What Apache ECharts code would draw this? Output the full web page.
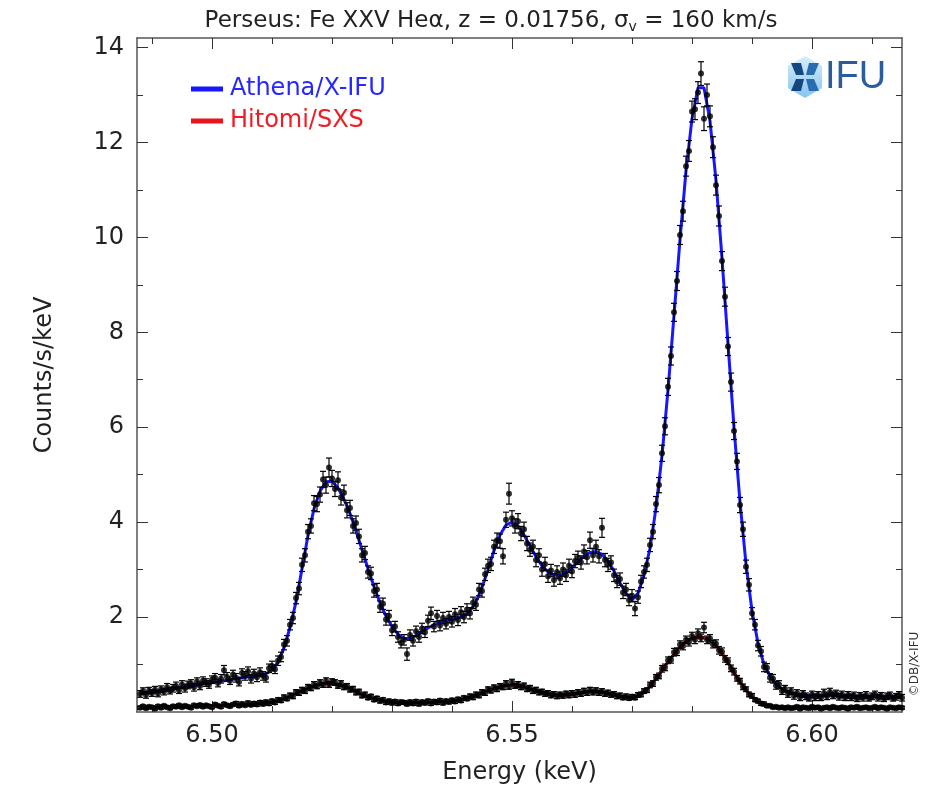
<!DOCTYPE html>
<html>
<head>
<meta charset="utf-8">
<title>Perseus Fe XXV He-alpha</title>
<script src="https://cdn.jsdelivr.net/npm/echarts@6.0.0/dist/echarts.min.js"></script>
<style>
  html, body { margin: 0; padding: 0; background: #fff; }
  #main { width: 934px; height: 790px; }
</style>
</head>
<body>
<div id="main"></div>
<script>
// bin centres (keV), 0.5 eV bins
const energy = [
  6.4880, 6.4885, 6.4890, 6.4895, 6.4900, 6.4905, 6.4910, 6.4915, 6.4920, 6.4925,
  6.4930, 6.4935, 6.4940, 6.4945, 6.4950, 6.4955, 6.4960, 6.4965, 6.4970, 6.4975,
  6.4980, 6.4985, 6.4990, 6.4995, 6.5000, 6.5005, 6.5010, 6.5015, 6.5020, 6.5025,
  6.5030, 6.5035, 6.5040, 6.5045, 6.5050, 6.5055, 6.5060, 6.5065, 6.5070, 6.5075,
  6.5080, 6.5085, 6.5090, 6.5095, 6.5100, 6.5105, 6.5110, 6.5115, 6.5120, 6.5125,
  6.5130, 6.5135, 6.5140, 6.5145, 6.5150, 6.5155, 6.5160, 6.5165, 6.5170, 6.5175,
  6.5180, 6.5185, 6.5190, 6.5195, 6.5200, 6.5205, 6.5210, 6.5215, 6.5220, 6.5225,
  6.5230, 6.5235, 6.5240, 6.5245, 6.5250, 6.5255, 6.5260, 6.5265, 6.5270, 6.5275,
  6.5280, 6.5285, 6.5290, 6.5295, 6.5300, 6.5305, 6.5310, 6.5315, 6.5320, 6.5325,
  6.5330, 6.5335, 6.5340, 6.5345, 6.5350, 6.5355, 6.5360, 6.5365, 6.5370, 6.5375,
  6.5380, 6.5385, 6.5390, 6.5395, 6.5400, 6.5405, 6.5410, 6.5415, 6.5420, 6.5425,
  6.5430, 6.5435, 6.5440, 6.5445, 6.5450, 6.5455, 6.5460, 6.5465, 6.5470, 6.5475,
  6.5480, 6.5485, 6.5490, 6.5495, 6.5500, 6.5505, 6.5510, 6.5515, 6.5520, 6.5525,
  6.5530, 6.5535, 6.5540, 6.5545, 6.5550, 6.5555, 6.5560, 6.5565, 6.5570, 6.5575,
  6.5580, 6.5585, 6.5590, 6.5595, 6.5600, 6.5605, 6.5610, 6.5615, 6.5620, 6.5625,
  6.5630, 6.5635, 6.5640, 6.5645, 6.5650, 6.5655, 6.5660, 6.5665, 6.5670, 6.5675,
  6.5680, 6.5685, 6.5690, 6.5695, 6.5700, 6.5705, 6.5710, 6.5715, 6.5720, 6.5725,
  6.5730, 6.5735, 6.5740, 6.5745, 6.5750, 6.5755, 6.5760, 6.5765, 6.5770, 6.5775,
  6.5780, 6.5785, 6.5790, 6.5795, 6.5800, 6.5805, 6.5810, 6.5815, 6.5820, 6.5825,
  6.5830, 6.5835, 6.5840, 6.5845, 6.5850, 6.5855, 6.5860, 6.5865, 6.5870, 6.5875,
  6.5880, 6.5885, 6.5890, 6.5895, 6.5900, 6.5905, 6.5910, 6.5915, 6.5920, 6.5925,
  6.5930, 6.5935, 6.5940, 6.5945, 6.5950, 6.5955, 6.5960, 6.5965, 6.5970, 6.5975,
  6.5980, 6.5985, 6.5990, 6.5995, 6.6000, 6.6005, 6.6010, 6.6015, 6.6020, 6.6025,
  6.6030, 6.6035, 6.6040, 6.6045, 6.6050, 6.6055, 6.6060, 6.6065, 6.6070, 6.6075,
  6.6080, 6.6085, 6.6090, 6.6095, 6.6100, 6.6105, 6.6110, 6.6115, 6.6120, 6.6125,
  6.6130, 6.6135, 6.6140, 6.6145, 6.6150
];

// Athena/X-IFU simulated counts/s/keV and 1-sigma errors
const xifu = [
  0.38, 0.44, 0.36, 0.45, 0.40, 0.47, 0.39, 0.48, 0.43, 0.52,
  0.45, 0.50, 0.55, 0.46, 0.58, 0.50, 0.57, 0.60, 0.52, 0.64,
  0.55, 0.66, 0.62, 0.58, 0.68, 0.72, 0.61, 0.70, 0.88, 0.74,
  0.66, 0.79, 0.72, 0.63, 0.82, 0.76, 0.86, 0.70, 0.81, 0.73,
  0.84, 0.76, 0.72, 0.92, 0.97, 0.90, 1.08, 1.16, 1.42, 1.50,
  1.84, 1.98, 2.40, 2.60, 3.10, 3.30, 3.80, 3.92, 4.40, 4.38,
  4.58, 4.90, 4.78, 5.15, 4.92, 4.70, 4.88, 4.52, 4.62, 4.25,
  4.30, 3.92, 3.98, 3.70, 3.30, 3.35, 2.95, 2.92, 2.55, 2.58,
  2.22, 2.28, 1.95, 2.02, 1.72, 1.80, 1.58, 1.46, 1.52, 1.22,
  1.62, 1.50, 1.70, 1.58, 1.76, 1.68, 1.92, 2.08, 1.80, 2.02,
  1.82, 1.98, 1.86, 2.00, 1.90, 2.06, 1.94, 2.10, 2.00, 2.16,
  2.08, 2.30, 2.26, 2.58, 2.55, 2.90, 3.08, 3.12, 3.48, 3.62,
  3.60, 3.28, 4.05, 4.60, 4.08, 3.92, 4.02, 3.76, 3.85, 3.55,
  3.42, 3.48, 3.20, 3.30, 3.00, 3.12, 2.86, 2.98, 2.78, 2.95,
  2.82, 3.00, 2.88, 3.08, 2.96, 3.18, 3.25, 3.15, 3.38, 3.26,
  3.62, 3.30, 3.48, 3.28, 3.88, 3.20, 3.10, 3.15, 2.88, 2.75,
  2.80, 2.52, 2.58, 2.36, 2.45, 2.18, 2.42, 2.75, 2.95, 3.10,
  3.52, 3.80, 4.38, 4.78, 5.45, 6.02, 6.85, 7.50, 8.42, 9.08,
  10.05, 10.55, 11.50, 11.82, 12.65, 12.70, 13.05, 13.45, 12.50, 13.00,
  12.55, 11.90, 11.10, 10.45, 9.50, 8.75, 7.70, 6.95, 5.92, 5.28,
  4.36, 3.85, 3.06, 2.68, 2.08, 1.84, 1.40, 1.28, 0.95, 0.93,
  0.72, 0.70, 0.56, 0.58, 0.44, 0.49, 0.38, 0.44, 0.34, 0.40,
  0.31, 0.38, 0.33, 0.29, 0.37, 0.31, 0.36, 0.30, 0.40, 0.33,
  0.42, 0.35, 0.39, 0.32, 0.37, 0.30, 0.36, 0.31, 0.35, 0.28,
  0.34, 0.30, 0.36, 0.29, 0.33, 0.37, 0.30, 0.34, 0.28, 0.33,
  0.35, 0.29, 0.32, 0.36, 0.30
];
const xifuErr = [
  .07, .07, .07, .07, .07, .07, .07, .07, .07, .08,
  .07, .08, .08, .07, .08, .08, .08, .08, .08, .08,
  .08, .08, .08, .08, .08, .09, .08, .09, .10, .09,
  .08, .09, .09, .08, .09, .09, .09, .09, .09, .09,
  .09, .09, .09, .09, .10, .09, .10, .10, .11, .11,
  .11, .12, .12, .13, .14, .14, .15, .15, .16, .16,
  .16, .17, .17, .20, .17, .16, .18, .16, .16, .16,
  .16, .15, .15, .15, .14, .14, .13, .13, .13, .13,
  .12, .12, .12, .12, .11, .11, .11, .11, .11, .13,
  .11, .11, .11, .11, .11, .11, .12, .13, .11, .12,
  .11, .12, .11, .12, .11, .12, .12, .12, .12, .12,
  .12, .12, .12, .13, .13, .13, .14, .14, .14, .15,
  .15, .16, .16, .22, .16, .15, .16, .15, .15, .15,
  .14, .14, .14, .14, .14, .14, .13, .13, .13, .13,
  .13, .14, .13, .14, .13, .14, .14, .14, .14, .14,
  .17, .14, .14, .14, .20, .14, .14, .14, .13, .13,
  .13, .13, .13, .12, .13, .15, .13, .13, .13, .14,
  .14, .15, .16, .16, .17, .18, .18, .19, .19, .20,
  .20, .21, .21, .22, .22, .22, .23, .25, .25, .23,
  .22, .22, .21, .21, .20, .20, .19, .19, .18, .17,
  .16, .15, .14, .13, .12, .11, .11, .10, .10, .09,
  .09, .09, .08, .08, .07, .07, .07, .07, .07, .07,
  .07, .07, .07, .06, .07, .07, .07, .06, .08, .07,
  .08, .07, .07, .07, .07, .06, .07, .07, .07, .06,
  .07, .07, .07, .06, .07, .07, .07, .07, .06, .07,
  .07, .06, .07, .07, .07
];

// Hitomi/SXS counts/s/keV and 1-sigma errors
const sxs = [
  0.09, 0.12, 0.08, 0.11, 0.10, 0.07, 0.12, 0.09, 0.13, 0.10,
  0.08, 0.12, 0.11, 0.14, 0.10, 0.13, 0.11, 0.09, 0.14, 0.12,
  0.15, 0.11, 0.14, 0.12, 0.10, 0.16, 0.13, 0.11, 0.17, 0.14,
  0.12, 0.16, 0.18, 0.13, 0.17, 0.14, 0.19, 0.15, 0.18, 0.16,
  0.20, 0.17, 0.21, 0.18, 0.23, 0.20, 0.26, 0.24, 0.31, 0.28,
  0.35, 0.33, 0.42, 0.40, 0.47, 0.44, 0.53, 0.50, 0.58, 0.54,
  0.62, 0.57, 0.66, 0.58, 0.64, 0.62, 0.55, 0.60, 0.52, 0.55,
  0.47, 0.49, 0.41, 0.43, 0.34, 0.37, 0.30, 0.33, 0.26, 0.29,
  0.23, 0.26, 0.20, 0.23, 0.19, 0.22, 0.18, 0.21, 0.20, 0.17,
  0.21, 0.18, 0.22, 0.17, 0.21, 0.19, 0.23, 0.18, 0.22, 0.20,
  0.24, 0.19, 0.23, 0.21, 0.25, 0.22, 0.27, 0.24, 0.30, 0.28,
  0.33, 0.31, 0.37, 0.35, 0.42, 0.40, 0.48, 0.45, 0.52, 0.48,
  0.55, 0.52, 0.60, 0.53, 0.63, 0.55, 0.58, 0.52, 0.56, 0.48,
  0.51, 0.44, 0.47, 0.41, 0.43, 0.38, 0.40, 0.35, 0.38, 0.33,
  0.37, 0.34, 0.39, 0.35, 0.40, 0.36, 0.42, 0.38, 0.45, 0.40,
  0.47, 0.41, 0.46, 0.40, 0.44, 0.38, 0.41, 0.36, 0.38, 0.33,
  0.35, 0.30, 0.33, 0.29, 0.32, 0.30, 0.36, 0.37, 0.44, 0.46,
  0.57, 0.60, 0.73, 0.76, 0.91, 0.94, 1.09, 1.10, 1.26, 1.27,
  1.42, 1.39, 1.52, 1.47, 1.60, 1.52, 1.66, 1.56, 1.78, 1.52,
  1.55, 1.43, 1.44, 1.30, 1.27, 1.12, 1.07, 0.92, 0.85, 0.71,
  0.65, 0.53, 0.48, 0.37, 0.34, 0.26, 0.23, 0.18, 0.17, 0.13,
  0.13, 0.10, 0.11, 0.09, 0.10, 0.08, 0.10, 0.08, 0.09, 0.11,
  0.07, 0.10, 0.09, 0.08, 0.11, 0.09, 0.10, 0.07, 0.09, 0.10,
  0.08, 0.11, 0.09, 0.08, 0.10, 0.09, 0.07, 0.10, 0.09, 0.11,
  0.08, 0.09, 0.10, 0.08, 0.09, 0.11, 0.08, 0.10, 0.09, 0.07,
  0.10, 0.09, 0.08, 0.10, 0.09
];
const sxsErr = [
  .03, .03, .03, .03, .03, .03, .03, .03, .03, .03,
  .03, .03, .03, .03, .03, .03, .03, .03, .03, .03,
  .03, .03, .03, .03, .03, .03, .03, .03, .03, .03,
  .03, .03, .04, .03, .04, .03, .04, .03, .04, .04,
  .04, .04, .04, .04, .04, .04, .04, .04, .05, .04,
  .05, .05, .05, .05, .05, .05, .05, .05, .06, .05,
  .06, .05, .06, .06, .06, .06, .05, .06, .05, .05,
  .05, .05, .05, .05, .04, .05, .04, .04, .04, .04,
  .04, .04, .04, .04, .04, .04, .04, .04, .04, .04,
  .04, .04, .04, .04, .04, .04, .04, .04, .04, .04,
  .04, .04, .04, .04, .04, .04, .04, .04, .04, .04,
  .05, .05, .05, .05, .05, .05, .05, .05, .05, .05,
  .05, .05, .06, .05, .06, .05, .06, .05, .05, .05,
  .05, .05, .05, .05, .05, .05, .05, .05, .05, .05,
  .05, .05, .05, .05, .05, .05, .05, .05, .05, .05,
  .05, .05, .05, .05, .05, .05, .05, .05, .05, .05,
  .05, .04, .05, .04, .05, .04, .05, .05, .05, .05,
  .06, .06, .06, .06, .07, .07, .07, .07, .08, .08,
  .08, .08, .08, .08, .08, .08, .09, .08, .11, .08,
  .08, .08, .08, .08, .08, .07, .07, .07, .07, .06,
  .06, .06, .05, .05, .05, .04, .04, .04, .04, .03,
  .03, .03, .03, .03, .03, .03, .03, .03, .03, .03,
  .03, .03, .03, .03, .03, .03, .03, .03, .03, .03,
  .03, .03, .03, .03, .03, .03, .03, .03, .03, .03,
  .03, .03, .03, .03, .03, .03, .03, .03, .03, .03,
  .03, .03, .03, .03, .03
];

// best-fit model curves, sampled every 1 eV (every other bin centre)
const modelEnergy = energy.filter((e, i) => i % 2 === 0);
const xifuModel = [
  0.40, 0.41, 0.42, 0.44, 0.46, 0.48, 0.50, 0.52, 0.54, 0.56,
  0.58, 0.60, 0.62, 0.64, 0.66, 0.68, 0.70, 0.72, 0.74, 0.76,
  0.78, 0.81, 0.88, 1.05, 1.35, 1.78, 2.32, 3.02, 3.72, 4.28,
  4.65, 4.85, 4.86, 4.72, 4.48, 4.18, 3.82, 3.42, 3.02, 2.64,
  2.30, 2.02, 1.80, 1.64, 1.55, 1.55, 1.61, 1.69, 1.77, 1.84,
  1.89, 1.93, 1.96, 1.99, 2.04, 2.13, 2.32, 2.62, 3.00, 3.40,
  3.73, 3.94, 4.00, 3.92, 3.73, 3.50, 3.27, 3.08, 2.95, 2.88,
  2.88, 2.94, 3.04, 3.16, 3.28, 3.36, 3.38, 3.32, 3.18, 2.97,
  2.72, 2.50, 2.36, 2.50, 2.88, 3.45, 4.30, 5.40, 6.78, 8.35,
  9.95, 11.40, 12.50, 13.15, 13.15, 12.45, 11.20, 9.56, 7.76, 5.99,
  4.42, 3.12, 2.13, 1.45, 1.00, 0.76, 0.59, 0.48, 0.42, 0.38,
  0.36, 0.35, 0.34, 0.34, 0.35, 0.36, 0.36, 0.35, 0.34, 0.33,
  0.33, 0.32, 0.32, 0.32, 0.31, 0.31, 0.31, 0.31
];
const sxsModel = [
  0.10, 0.10, 0.10, 0.10, 0.11, 0.11, 0.11, 0.12, 0.12, 0.12,
  0.13, 0.13, 0.13, 0.14, 0.14, 0.15, 0.15, 0.16, 0.16, 0.17,
  0.18, 0.19, 0.21, 0.24, 0.28, 0.33, 0.39, 0.45, 0.50, 0.55,
  0.58, 0.60, 0.60, 0.58, 0.54, 0.49, 0.43, 0.37, 0.32, 0.28,
  0.25, 0.22, 0.21, 0.20, 0.19, 0.19, 0.19, 0.20, 0.20, 0.21,
  0.21, 0.22, 0.23, 0.25, 0.28, 0.31, 0.35, 0.40, 0.45, 0.49,
  0.53, 0.56, 0.57, 0.56, 0.53, 0.49, 0.45, 0.41, 0.38, 0.36,
  0.35, 0.36, 0.37, 0.39, 0.41, 0.42, 0.42, 0.41, 0.39, 0.36,
  0.33, 0.31, 0.31, 0.34, 0.42, 0.54, 0.70, 0.88, 1.05, 1.22,
  1.37, 1.48, 1.55, 1.58, 1.57, 1.51, 1.40, 1.24, 1.04, 0.83,
  0.63, 0.46, 0.32, 0.22, 0.16, 0.12, 0.10, 0.09, 0.09, 0.09,
  0.09, 0.09, 0.09, 0.09, 0.09, 0.09, 0.09, 0.09, 0.09, 0.09,
  0.09, 0.09, 0.09, 0.09, 0.09, 0.09, 0.09, 0.09
];

// tick positions
const xMajorTicks = [6.50, 6.55, 6.60];
const xMinorTicks = [6.49, 6.51, 6.52, 6.53, 6.54, 6.56, 6.57, 6.58, 6.59, 6.61];
const yMajorTicks = [2, 4, 6, 8, 10, 12, 14];
const yMinorTicks = [1, 3, 5, 7, 9, 11, 13];

const FONT = 'DejaVu Sans';
const frameLine = { color: '#555', width: 1.5 };
const tickLine = { color: '#333', width: 1 };

// one axis of the box frame: ticks inside, no grid lines
function frameAxis(dim, position, ticks, len, showLine) {
  const ax = {
    type: 'value',
    position: position,
    axisLine: { show: showLine, onZero: false, lineStyle: frameLine },
    axisTick: { show: true, inside: true, length: len, customValues: ticks, lineStyle: tickLine },
    axisLabel: { show: false },
    splitLine: { show: false }
  };
  if (dim === 'x') { ax.min = 6.4875; ax.max = 6.615; }
  else { ax.min = 0; ax.max = 14.2; }
  return ax;
}

const xBottom = frameAxis('x', 'bottom', xMajorTicks, 11, true);
xBottom.axisLabel = {
  show: true, customValues: xMajorTicks, margin: 12,
  formatter: v => v.toFixed(2),
  fontSize: 24, color: '#222', fontFamily: FONT
};
xBottom.name = 'Energy (keV)';
xBottom.nameLocation = 'middle';
xBottom.nameGap = 49;
xBottom.nameTextStyle = { fontSize: 24, color: '#222', fontFamily: FONT };

const yLeft = frameAxis('y', 'left', yMajorTicks, 11, true);
yLeft.axisLabel = {
  show: true, customValues: yMajorTicks, margin: 13,
  fontSize: 24, color: '#222', fontFamily: FONT
};
yLeft.name = 'Counts/s/keV';
yLeft.nameLocation = 'middle';
yLeft.nameGap = 80;
yLeft.nameTextStyle = { fontSize: 24, color: '#222', fontFamily: FONT };

function errorBar(params, api) {
  const x = api.value(0);
  const lo = api.coord([x, api.value(1)]);
  const hi = api.coord([x, api.value(2)]);
  const cap = 3;
  const style = { stroke: '#000', lineWidth: 1.2 };
  return {
    type: 'group',
    children: [
      { type: 'line', shape: { x1: lo[0], y1: lo[1], x2: hi[0], y2: hi[1] }, style: style },
      { type: 'line', shape: { x1: lo[0] - cap, y1: lo[1], x2: lo[0] + cap, y2: lo[1] }, style: style },
      { type: 'line', shape: { x1: hi[0] - cap, y1: hi[1], x2: hi[0] + cap, y2: hi[1] }, style: style }
    ]
  };
}

const blue = '#1616ff';
const red = '#e8141b';

const myChart = echarts.init(document.getElementById('main'));
myChart.setOption({
  animation: false,
  backgroundColor: '#fff',
  title: {
    text: 'Perseus: Fe XXV Heα, z = 0.01756, σ{sub|v} = 160 km/s',
    left: 486, top: 3, textAlign: 'center',
    textStyle: {
      fontSize: 23, fontWeight: 'normal', color: '#222', fontFamily: FONT,
      rich: { sub: { fontSize: 14, fontFamily: FONT, color: '#222', padding: [12, 0, 0, 0] } }
    }
  },
  legend: {
    orient: 'vertical', left: 186, top: 72, itemGap: 8,
    itemWidth: 32, itemHeight: 5, icon: 'rect', selectedMode: false,
    textStyle: { fontSize: 24, fontFamily: FONT, padding: [0, 0, 0, 2] },
    data: [
      { name: 'Athena/X-IFU', textStyle: { color: '#2626ff' } },
      { name: 'Hitomi/SXS', textStyle: { color: '#ee1c24' } }
    ]
  },
  grid: { left: 137, right: 32, top: 38, bottom: 78 },
  xAxis: [
    xBottom,
    frameAxis('x', 'bottom', xMinorTicks, 6, false),
    frameAxis('x', 'top', xMajorTicks, 11, true),
    frameAxis('x', 'top', xMinorTicks, 6, false)
  ],
  yAxis: [
    yLeft,
    frameAxis('y', 'left', yMinorTicks, 6, false),
    frameAxis('y', 'right', yMajorTicks, 11, true),
    frameAxis('y', 'right', yMinorTicks, 6, false)
  ],
  graphic: [
    {
      type: 'text', x: 915, y: 664, rotation: Math.PI / 2,
      style: { text: '©DB/X-IFU', fontSize: 12, fontFamily: FONT, fill: '#333', align: 'center', verticalAlign: 'middle' }
    },
    {
      type: 'group', children: [
        {
          type: 'polygon',
          shape: { points: [[805, 56], [822, 66], [822, 88], [805, 98], [788, 88], [788, 66]] },
          style: { fill: new echarts.graphic.LinearGradient(0, 0, 0, 1, [
            { offset: 0, color: '#d6eefb' }, { offset: 1, color: '#86c5ee' }]) }
        },
        { type: 'polygon', shape: { points: [[791, 63], [801, 63], [804, 75], [796, 75]] }, style: { fill: '#15467f' } },
        { type: 'polygon', shape: { points: [[791, 91], [801, 91], [804, 79], [796, 79]] }, style: { fill: '#15467f' } },
        { type: 'polygon', shape: { points: [[819, 63], [809, 63], [806, 75], [814, 75]] }, style: { fill: '#2a6cb0' } },
        { type: 'polygon', shape: { points: [[819, 91], [809, 91], [806, 79], [814, 79]] }, style: { fill: '#2a6cb0' } },
        {
          type: 'text', x: 825, y: 78,
          style: { text: 'IFU', fontSize: 38, fontFamily: 'Liberation Sans', fill: '#2b5d9c', verticalAlign: 'middle' }
        }
      ]
    }
  ],
  series: [
    {
      name: 'Athena/X-IFU', type: 'line', showSymbol: false, z: 2,
      data: modelEnergy.map((e, i) => [e, xifuModel[i]]),
      lineStyle: { color: blue, width: 3 }, itemStyle: { color: blue }
    },
    {
      name: 'Hitomi/SXS', type: 'line', showSymbol: false, z: 2,
      data: modelEnergy.map((e, i) => [e, sxsModel[i]]),
      lineStyle: { color: red, width: 3 }, itemStyle: { color: red }
    },
    {
      name: 'X-IFU errors', type: 'custom', z: 3, renderItem: errorBar,
      encode: { x: 0, y: [1, 2] },
      data: energy.map((e, i) => [e, xifu[i] - xifuErr[i], xifu[i] + xifuErr[i]])
    },
    {
      name: 'X-IFU data', type: 'scatter', z: 4, symbolSize: 6,
      data: energy.map((e, i) => [e, xifu[i]]),
      itemStyle: { color: '#000' }
    },
    {
      name: 'SXS errors', type: 'custom', z: 3, renderItem: errorBar,
      encode: { x: 0, y: [1, 2] },
      data: energy.map((e, i) => [e, sxs[i] - sxsErr[i], sxs[i] + sxsErr[i]])
    },
    {
      name: 'SXS data', type: 'scatter', z: 4, symbolSize: 6,
      data: energy.map((e, i) => [e, sxs[i]]),
      itemStyle: { color: '#000' }
    }
  ]
});
</script>
</body>
</html>
